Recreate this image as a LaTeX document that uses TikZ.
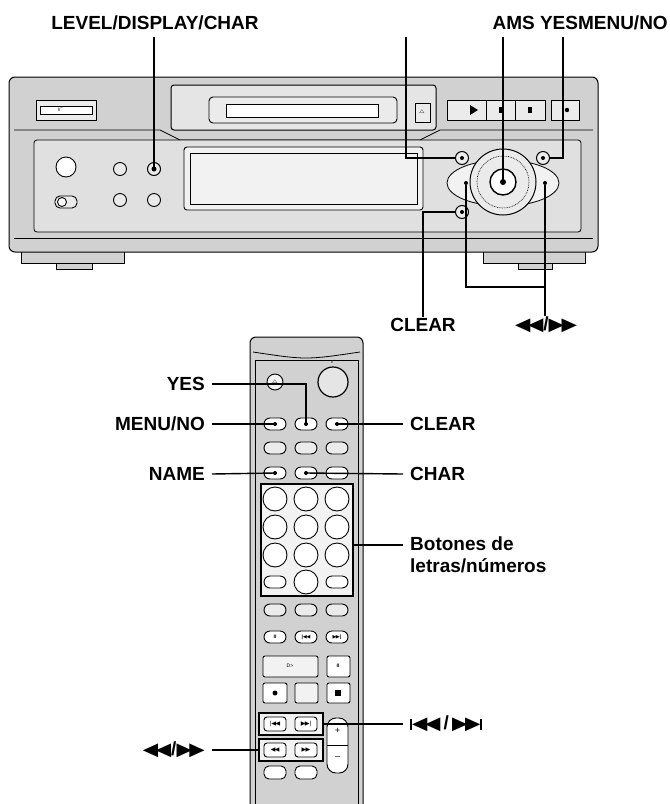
\documentclass[tikz,border=0pt]{standalone}
\usepackage{fontspec}
\setmainfont{Liberation Sans}
\newfontfamily\symf{DejaVu Sans}
\begin{document}
\begin{tikzpicture}[x=1pt,y=-1pt,
  lbl/.style={font=\bfseries\fontsize{19}{22}\selectfont, inner sep=1pt},
  ln/.style={line width=1.4pt},
  body/.style={draw, line width=1pt, fill=black!18},
  btn/.style={draw, line width=0.9pt, fill=black!8},
  wbtn/.style={draw, line width=0.9pt, fill=white}]
\useasboundingbox (0,0) rectangle (670,804);
\fill[white] (0,0) rectangle (670,804);
\newcommand{\rw}{{\symf\scalebox{1.05}[0.95]{◀\kern-0.12em◀}}}
\newcommand{\ff}{{\symf\scalebox{1.05}[0.95]{▶\kern-0.12em▶}}}
% ===== deck =====
\draw[body] (21,250) rectangle (124,263); \draw[body] (56,263) rectangle (92,269);
\draw[body] (483,250) rectangle (585,263); \draw[body] (518,263) rectangle (552,269);
\draw[body, rounded corners=6pt] (9,77) rectangle (598,252);
\draw[line width=0.8pt] (14,130) -- (160,130) -- (180,140) -- (420,140) -- (440,130) -- (593,130);
\draw[line width=0.8pt, fill=black!12, rounded corners=3pt] (34,140) rectangle (581,232);
\draw[line width=0.8pt] (14,238) -- (593,238);
\draw[btn] (36,100) rectangle (96,120); \draw[fill=white] (40,106) rectangle (92,114);
\node[font=\tiny] (pw) at (60,110) {I/\textrm{\r{}}};
\draw[body, fill=black!10, rounded corners=3pt] (171,85) rectangle (436,130);
\draw[btn, rounded corners=4pt] (209,97) rectangle (397,123);
\draw[wbtn] (226,104) rectangle (378,117);
\draw[btn] (415,103) rectangle (430,122);
\node[font=\tiny] (ej) at (422,112) {$\triangle$};
\draw[btn] (447,100) rectangle (545,120);
\draw[line width=0.8pt] (486,100) -- (486,120) (515,100) -- (515,120);
\fill (470,105) -- (478,110) -- (470,115) -- cycle; \fill (499,107) rectangle (502,113); \fill (528,107) rectangle (532,113);
\draw[btn] (551,100) rectangle (579,120); \fill (567,110) circle (2.2);
\draw[line width=0.9pt, fill=black!5, rounded corners=3pt] (184,147) rectangle (423,210);
\draw[line width=0.7pt] (190,153) rectangle (417,204);
\draw[wbtn] (66,167) circle (10);
\draw[btn, rounded corners=5pt] (55,196) rectangle (77,208); \draw[wbtn] (62,202) circle (4.5);
\draw[btn] (120,169) circle (6.5); \draw[btn] (120,200) circle (6.5); \draw[btn] (154,200) circle (6.5);
\node[draw, circle, line width=1pt, fill=black!8, minimum size=13pt, inner sep=0] (lev) at (154,169) {}; \fill (154,169) circle (2.5);
\draw[line width=0.8pt, fill=black!5] (503,183) ellipse (56 and 23);
\node[draw, circle, line width=1pt, fill=black!8, minimum size=66pt, inner sep=0] (ams) at (503,182) {};
\draw[line width=0.7pt, densely dotted] (503,182) circle (26);
\draw[wbtn, line width=1.4pt] (503,182) circle (13); \fill (503,182) circle (3);
\node[draw, circle, line width=1pt, fill=black!8, minimum size=13pt, inner sep=0] (yesb) at (462,158) {}; \fill (462,158) circle (2);
\node[draw, circle, line width=1pt, fill=black!8, minimum size=13pt, inner sep=0] (menub) at (543,158) {}; \fill (543,158) circle (2);
\node[draw, circle, line width=1pt, fill=black!8, minimum size=13pt, inner sep=0] (clrb) at (462,212) {}; \fill (462,212) circle (2);
\node[circle, inner sep=0, minimum size=4pt, fill] (rwb) at (466,183) {};
\node[circle, inner sep=0, minimum size=4pt, fill] (ffb) at (545,183) {};
% labels deck
\node[lbl] (tlev) at (155,23) {LEVEL/DISPLAY/CHAR};
\node[lbl, anchor=east] (tams) at (669,23) {AMS YESMENU/NO};
\coordinate (c1) at (406,37); \coordinate (c2) at (503,37); \coordinate (c3) at (563,37);
\draw[ln] (154,37) -- (lev.center);
\draw[ln] (c1) |- (yesb.west);
\draw[ln] (c2) -- (ams.center);
\draw[ln] (c3) |- (menub.east);
\node[lbl] (tclr) at (423,325) {CLEAR};
\node[lbl] (tarr) at (546,325) {\rw/\ff};
\draw[ln] (clrb.west) -| (tclr.north);
\draw[ln] (rwb) |- (545,287);
\draw[ln] (ffb) -- (tarr.north -| ffb);
% ===== remote =====
\draw[body, rounded corners=6pt] (250,810) -- (250,337) -- (363,337) -- (363,810);
\draw[line width=0.8pt] (255,810) -- (255,360) -- (358,360) -- (358,810);
\draw[line width=0.8pt] (253,352) .. controls (306,360) .. (360,352);
\draw[wbtn, fill=black!5] (275,382) circle (8); \node[font=\tiny] (rej) at (275,382) {$\triangle$};
\draw[wbtn, fill=black!10, line width=1.2pt] (333,382) circle (15);
\node[font=\fontsize{4}{4}\selectfont] (rpw) at (333,362) {I/\r{}};
\foreach \x/\n in {275/a,306/b,337/c}{
  \node[draw, line width=0.9pt, fill=white, rounded corners=6pt, minimum width=22pt, minimum height=12pt, inner sep=0] (r1\n) at (\x,424) {};
  \node[draw, line width=0.9pt, fill=black!8, rounded corners=6pt, minimum width=22pt, minimum height=12pt, inner sep=0] (r2\n) at (\x,448) {};
  \node[draw, line width=0.9pt, fill=white, rounded corners=6pt, minimum width=22pt, minimum height=12pt, inner sep=0] (r3\n) at (\x,473) {};
  \node[draw, line width=0.9pt, fill=black!8, rounded corners=6pt, minimum width=22pt, minimum height=12pt, inner sep=0] (r5\n) at (\x,610) {};
  \node[draw, line width=0.9pt, fill=white, rounded corners=6pt, minimum width=22pt, minimum height=12pt, inner sep=0] (r6\n) at (\x,637) {};
}
\foreach \n in {r1a,r1b,r1c,r3a,r3b} \fill (\n.center) circle (2);
\draw[line width=1.2pt, fill=black!5] (261,484) rectangle (353,596);
\foreach \y in {499,527,555} \foreach \x in {275,306,337} \draw[wbtn] (\x,\y) circle (12);
\draw[wbtn, rounded corners=6pt] (264,576) rectangle (286,588);
\draw[wbtn] (306,582) circle (12);
\draw[wbtn, rounded corners=6pt] (326,576) rectangle (348,588);
\node[font=\fontsize{5}{5}\selectfont\bfseries] (p1) at (275,637) {II};
\node[font=\fontsize{5}{5}\selectfont\bfseries] (p2) at (306,637) {|\rw};
\node[font=\fontsize{5}{5}\selectfont\bfseries] (p3) at (337,637) {\ff|};
\draw[wbtn, fill=black!5, rounded corners=2pt] (263,656) rectangle (318,677); \node[font=\tiny] (p4) at (290,666) {D\textgreater};
\draw[wbtn, rounded corners=2pt] (327,656) rectangle (350,677); \node[font=\tiny\bfseries] (p5) at (338,666) {II};
\draw[wbtn, rounded corners=2pt] (263,683) rectangle (287,703); \fill (275,693) circle (2.5);
\draw[wbtn, fill=black!5, rounded corners=2pt] (295,683) rectangle (318,703);
\draw[wbtn, rounded corners=2pt] (327,683) rectangle (350,703); \fill (335,690) rectangle (341,696);
\draw[line width=1.2pt, fill=black!5] (259,713) rectangle (323,735);
\draw[line width=1.2pt, fill=black!5] (259,739) rectangle (323,761);
\foreach \x in {275,306}{
  \draw[wbtn, rounded corners=3pt] (\x-11,717) rectangle (\x+11,731);
  \draw[wbtn, rounded corners=3pt] (\x-11,743) rectangle (\x+11,757);
  \draw[wbtn, rounded corners=5pt] (\x-11,766) rectangle (\x+11,779);}
\node[font=\fontsize{6}{6}\selectfont] (q1) at (275,724) {|\rw};
\node[font=\fontsize{6}{6}\selectfont] (q2) at (306,724) {\ff|};
\node[font=\fontsize{6}{6}\selectfont] (q3) at (275,750) {\rw};
\node[font=\fontsize{6}{6}\selectfont] (q4) at (306,750) {\ff};
\draw[wbtn, rounded corners=9pt] (327,718) rectangle (348,773);
\draw (327,745) -- (348,745);
\node[font=\fontsize{9}{9}\selectfont] (pl) at (337.5,731) {+};
\node[font=\fontsize{9}{9}\selectfont] (mi) at (337.5,758) {--};
% remote labels
\node[lbl, anchor=east] (lyes) at (206,384) {YES};
\node[lbl, anchor=east] (lmenu) at (206,424) {MENU/NO};
\node[lbl, anchor=east] (lname) at (206,474) {NAME};
\node[lbl, anchor=west] (lclr) at (409,424) {CLEAR};
\node[lbl, anchor=west] (lchar) at (409,474) {CHAR};
\node[lbl, anchor=west, align=left] (lbot) at (409,555) {Botones de\\letras/números};
\node[lbl, anchor=west] (lskip) at (409,724) {\rule{2pt}{11pt}\rw\,/\,\ff\rule{2pt}{11pt}};
\node[lbl, anchor=east] (lsrch) at (206,750) {\rw/\ff};
\draw[ln] ([xshift=6pt]lyes.east) -| (r1b.center);
\draw[ln] ([xshift=6pt]lmenu.east) -- (r1a.center);
\draw[ln] ([xshift=6pt]lname.east) -- (r3a.center);
\draw[ln] ([xshift=-6pt]lclr.west) -- (r1c.center);
\draw[ln] ([xshift=-6pt]lchar.west) -- (r3b.center);
\draw[ln] (403,545) -- (353,545);
\draw[ln] ([xshift=-6pt]lskip.west) -- (323,724);
\draw[ln] ([xshift=6pt]lsrch.east) -- (259,750);
\end{tikzpicture}
\end{document}
